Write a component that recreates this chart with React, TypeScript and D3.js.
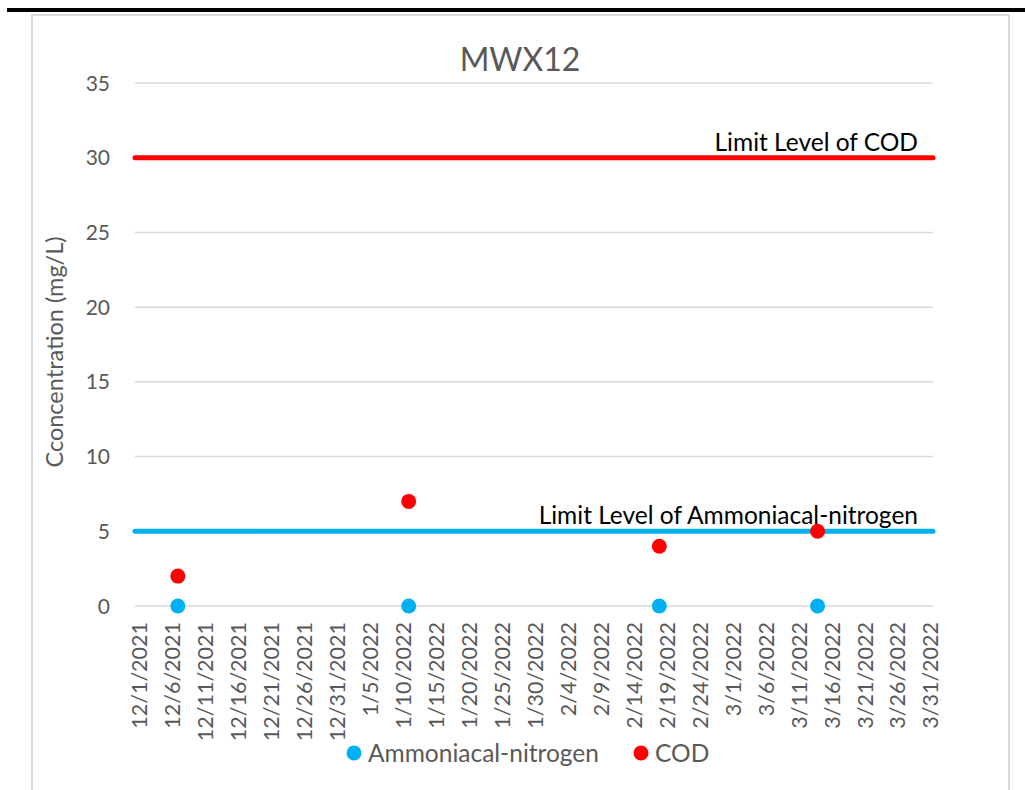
import React, { useEffect, useRef } from "react";
import * as d3 from "d3";

const title = "MWX12";
const yAxisTitle = "Cconcentration (mg/L)";
const sampleDates = ["2021-12-07", "2022-01-11", "2022-02-18", "2022-03-14"];
const ammoniaValues = [0, 0, 0, 0];
const codValues = [2, 7, 4, 5];
const limitCOD = 30;
const limitAmmonia = 5;
const yTicks = [0, 5, 10, 15, 20, 25, 30, 35];
const axisStart = "2021-12-01";
const axisEnd = "2022-03-31";
const tickStepDays = 5;
const seriesNames = ["Ammoniacal-nitrogen", "COD"];
const limitLabels = ["Limit Level of COD", "Limit Level of Ammoniacal-nitrogen"];

const BLUE = "#00B0F0";
const RED = "#FF0000";
const GRID = "#D9D9D9";
const TXT = "#595959";
const FONT = "Lato, 'Open Sans', sans-serif";

export default function App() {
  const ref = useRef<SVGSVGElement>(null);

  useEffect(() => {
    const svg = d3.select(ref.current);
    svg.selectAll("*").remove();
    const W = 1025, H = 790;
    const left = 135, right = 933, top = 83, bottom = 606;

    // frame
    svg.append("rect").attr("x", 0).attr("y", 0).attr("width", W).attr("height", H).attr("fill", "#fff");
    svg.append("rect").attr("x", 7).attr("y", 8).attr("width", W - 7).attr("height", 4).attr("fill", "#000");
    svg.append("path")
      .attr("d", `M32,${H + 5} V15 H1009 V${H + 5}`)
      .attr("fill", "none").attr("stroke", "#D9D9D9").attr("stroke-width", 2);

    const parse = d3.utcParse("%Y-%m-%d");
    const d0 = parse(axisStart)!;
    const d1 = parse(axisEnd)!;
    const nDays = d3.utcDay.count(d0, d1) + 1;
    const dayIdx = (s: string) => d3.utcDay.count(d0, parse(s)!);

    const x = d3.scaleBand<number>().domain(d3.range(nDays)).range([left, right]);
    const xc = (i: number) => (x(i) as number) + x.bandwidth() / 2;
    const y = d3.scaleLinear().domain([0, 35]).range([bottom, top]);

    // gridlines
    svg.append("g").selectAll("line").data(yTicks).join("line")
      .attr("x1", left).attr("x2", right)
      .attr("y1", d => y(d)).attr("y2", d => y(d))
      .attr("stroke", GRID).attr("stroke-width", 1.5);

    // y tick labels
    svg.append("g").selectAll("text").data(yTicks).join("text")
      .attr("x", 110).attr("y", d => y(d)).attr("dy", "0.36em")
      .attr("text-anchor", "end").attr("fill", TXT)
      .attr("font-family", FONT).attr("font-size", 21)
      .text(d => d);

    // x tick labels
    const tickIdx = d3.range(0, nDays, tickStepDays);
    const fmt = (i: number) => {
      const d = d3.utcDay.offset(d0, i);
      return `${d.getUTCMonth() + 1}/${d.getUTCDate()}/${d.getUTCFullYear()}`;
    };
    svg.append("g").selectAll("text").data(tickIdx).join("text")
      .attr("transform", i => `translate(${xc(i) + 1},622) rotate(-90)`)
      .attr("dy", "0.36em")
      .attr("text-anchor", "end").attr("fill", TXT)
      .attr("font-family", FONT).attr("font-size", 21.5)
      .text(i => fmt(i));

    // limit lines
    const limits = [
      { v: limitCOD, c: RED, label: limitLabels[0] },
      { v: limitAmmonia, c: BLUE, label: limitLabels[1] },
    ];
    svg.append("g").selectAll("line").data(limits).join("line")
      .attr("x1", left).attr("x2", right)
      .attr("y1", d => y(d.v)).attr("y2", d => y(d.v))
      .attr("stroke", d => d.c).attr("stroke-width", 5).attr("stroke-linecap", "round");
    svg.append("g").selectAll("text").data(limits).join("text")
      .attr("x", 918).attr("y", d => y(d.v) - 7)
      .attr("text-anchor", "end").attr("fill", "#000")
      .attr("font-family", FONT).attr("font-size", 24.5)
      .text(d => d.label);

    // points
    const ptsA = sampleDates.map((d, i) => ({ i: dayIdx(d), v: ammoniaValues[i] }));
    const ptsC = sampleDates.map((d, i) => ({ i: dayIdx(d), v: codValues[i] }));
    svg.append("g").selectAll("circle").data(ptsA).join("circle")
      .attr("cx", d => xc(d.i)).attr("cy", d => y(d.v)).attr("r", 7.5).attr("fill", BLUE);
    svg.append("g").selectAll("circle").data(ptsC).join("circle")
      .attr("cx", d => xc(d.i)).attr("cy", d => y(d.v)).attr("r", 7.5).attr("fill", RED);

    // title
    svg.append("text").attr("x", 520).attr("y", 71).attr("text-anchor", "middle")
      .attr("fill", TXT).attr("font-family", FONT).attr("font-size", 32).text(title);

    // y axis title
    svg.append("text").attr("transform", `translate(63,${352}) rotate(-90)`)
      .attr("text-anchor", "middle").attr("fill", TXT)
      .attr("font-family", FONT).attr("font-size", 23.5).text(yAxisTitle);

    // legend
    const leg = [
      { name: seriesNames[0], c: BLUE, x: 354 },
      { name: seriesNames[1], c: RED, x: 641 },
    ];
    const lg = svg.append("g").selectAll("g").data(leg).join("g");
    lg.append("circle").attr("cx", d => d.x).attr("cy", 753).attr("r", 7.5).attr("fill", d => d.c);
    lg.append("text").attr("x", d => d.x + 14).attr("y", 753).attr("dy", "0.36em")
      .attr("fill", TXT).attr("font-family", FONT).attr("font-size", 24.5).text(d => d.name);
  }, []);

  return (
    <svg ref={ref} width={1025} height={790}
      style={{ position: "absolute", left: 0, top: 0, display: "block" }} />
  );
}
